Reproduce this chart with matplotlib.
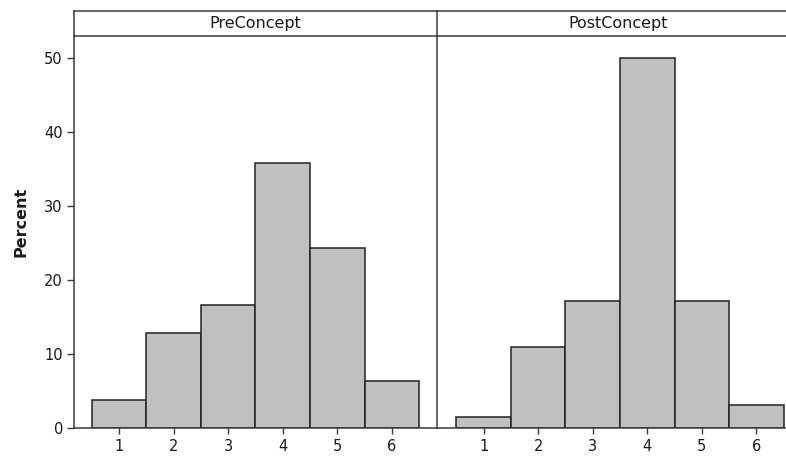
import matplotlib
matplotlib.use("Agg")
import matplotlib.pyplot as plt

categories = [1, 2, 3, 4, 5, 6]
pre_percent = [3.85, 12.82, 16.67, 35.90, 24.36, 6.41]
post_percent = [1.56, 10.94, 17.19, 50.0, 17.19, 3.13]
panel_titles = ["PreConcept", "PostConcept"]
y_ticks = [0, 10, 20, 30, 40, 50]

W, H = 786, 457
fig = plt.figure(figsize=(W / 100, H / 100), dpi=100)
plt.rcParams['font.family'] = ['DejaVu Sans']

line_col = "#3a3a3a"
bar_fill = "#c0c0c0"
bar_edge = "#222222"
text_col = "#1a1a1a"

plot_bottom = (H - 428.3) / H
plot_top = (H - 36) / H
plot_h = plot_top - plot_bottom
head_h = 25 / H

lefts = [74 / W, 437 / W]
widths = [363 / W, 366 / W]
xlims = [(0.17, 6.83), (0.146, 6.854)]
datas = [pre_percent, post_percent]

for i in range(2):
    ax = fig.add_axes([lefts[i], plot_bottom, widths[i], plot_h])
    ax.set_facecolor('none')
    ax.bar(categories, datas[i], width=1.0, color=bar_fill,
           edgecolor=bar_edge, linewidth=1.1, zorder=2)
    ax.set_xlim(*xlims[i])
    ax.set_ylim(0, 53)
    ax.set_xticks(categories)
    ax.set_xticklabels([str(c) for c in categories])
    ax.spines['top'].set_visible(False)
    for s in ['left', 'right', 'bottom']:
        ax.spines[s].set_color(line_col)
        ax.spines[s].set_linewidth(1.1)
        ax.spines[s].set_zorder(5)
    ax.tick_params(axis='x', direction='out', length=4, width=1.0,
                   color=line_col, labelsize=10.5, labelcolor=text_col, pad=4)
    if i == 0:
        ax.set_yticks(y_ticks)
        ax.tick_params(axis='y', direction='out', length=5, width=1.0,
                       color=line_col, labelsize=10.5, labelcolor=text_col, pad=3)
    else:
        ax.set_yticks([])
        ax.spines['left'].set_visible(False)
        ax.spines['right'].set_visible(False)

    hax = fig.add_axes([lefts[i], plot_top, widths[i], head_h])
    hax.set_facecolor('none')
    hax.set_xticks([])
    hax.set_yticks([])
    for s in ['left', 'right', 'bottom', 'top']:
        hax.spines[s].set_color(line_col)
        hax.spines[s].set_linewidth(1.1)
    if i == 1:
        hax.spines['left'].set_visible(False)
    cx = 0.5 if i == 0 else (618 - 437) / 366
    hax.text(cx, 0.5, panel_titles[i], ha='center', va='center',
             fontsize=11.5, color=text_col, transform=hax.transAxes)

fig.text(21 / W, 1 - 222 / H, "Percent", rotation=90, ha='center', va='center',
         fontsize=11.5, fontweight='bold', color=text_col)

fig.savefig("out.png", dpi=100)
